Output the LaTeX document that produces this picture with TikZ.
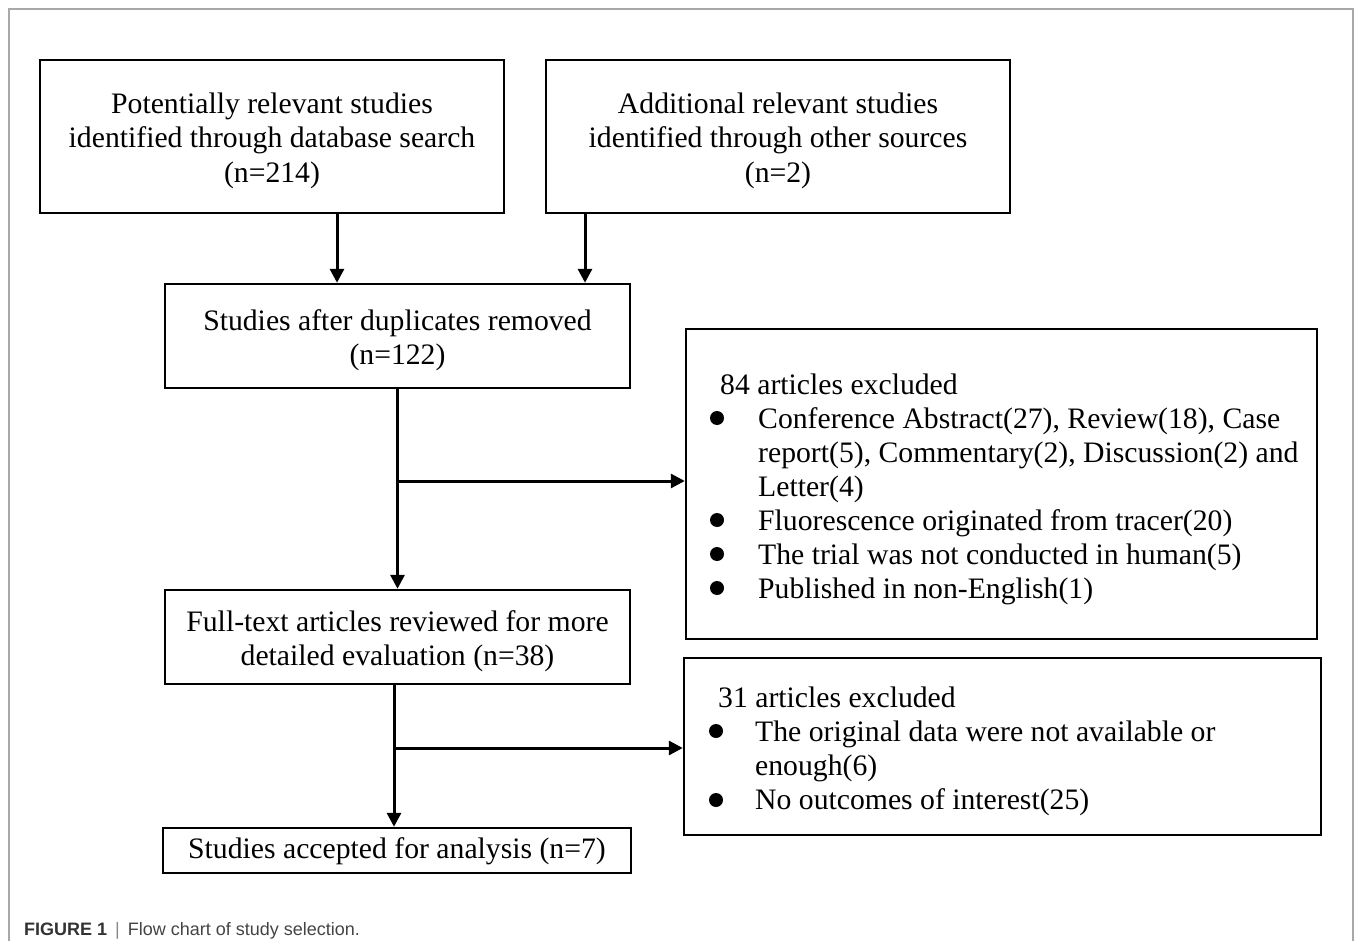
\documentclass[tikz,border=0pt]{standalone}
\usepackage{fontspec}
\setmainfont{Liberation Serif}
\newfontfamily\capfont{Liberation Sans}
\usetikzlibrary{arrows.meta}
\definecolor{framegray}{HTML}{A8A8A8}
\definecolor{capdark}{HTML}{333333}
\definecolor{captext}{HTML}{444444}
\definecolor{capbar}{HTML}{8A8A8A}
\begin{document}
\begin{tikzpicture}[x=1pt,y=-1pt,
  box/.style={draw=black, line width=2.4pt, rectangle, inner sep=0pt},
  lbl/.style={align=center, font=\fontsize{29.7}{34.5}\selectfont, inner sep=0pt, yshift=-4pt},
  ltxt/.style={align=left, font=\fontsize{29.7}{34}\selectfont, inner sep=0pt, anchor=base west},
  arr/.style={line width=3pt, -{Triangle[length=14pt,width=14pt]}}]
\useasboundingbox (0,0) rectangle (1357,941);
\draw[framegray, line width=1.3pt] (9,980) -- (9,9) -- (1353,9) -- (1353,980);

\node[box, minimum width=464pt, minimum height=153pt] (A) at (272,136.5) {};
\node[lbl] (tA) at (A) {Potentially relevant studies\\identified through database search\\(n=214)};
\node[box, minimum width=464pt, minimum height=153pt] (B) at (778,136.5) {};
\node[lbl] (tB) at (B) {Additional relevant studies\\identified through other sources\\(n=2)};
\node[box, minimum width=465pt, minimum height=104pt] (C) at (397.5,336) {};
\node[lbl] (tC) at (C) {Studies after duplicates removed\\(n=122)};
\node[box, minimum width=631pt, minimum height=310pt] (D) at (1001.5,484) {};
\node[box, minimum width=465pt, minimum height=94pt] (E) at (397.5,637) {};
\node[lbl] (tE) at (E) {Full-text articles reviewed for more\\detailed evaluation (n=38)};
\node[box, minimum width=637pt, minimum height=177pt] (F) at (1002.5,746.5) {};
\node[box, minimum width=468pt, minimum height=45pt] (G) at (397,850.5) {};
\node[lbl, yshift=3pt] (tG) at (G) {Studies accepted for analysis (n=7)};

\node[ltxt] (Dt) at (758,598) {\hspace*{-38pt}84 articles excluded\\
Conference Abstract(27), Review(18), Case\\
report(5), Commentary(2), Discussion(2) and\\
Letter(4)\\
Fluorescence originated from tracer(20)\\
The trial was not conducted in human(5)\\
Published in non-English(1)};
\fill (717,418) circle (7pt);
\fill (717,520) circle (7pt);
\fill (717,554) circle (7pt);
\fill (717,588) circle (7pt);

\node[ltxt] (Ft) at (755,809) {\hspace*{-37pt}31 articles excluded\\
The original data were not available or\\
enough(6)\\
No outcomes of interest(25)};
\fill (716,731) circle (7pt);
\fill (716,800) circle (7pt);

\coordinate (xa) at (337,0);
\coordinate (xb) at (585,0);
\coordinate (xe) at (394,0);
\coordinate (b1) at (397.5,481);
\coordinate (b2) at (394,748);
\draw[arr] (A.south -| xa) -- (C.north -| xa);
\draw[arr] (B.south -| xb) -- (C.north -| xb);
\draw[arr] (C.south) -- (E.north);
\draw[arr] (b1) -- (D.west |- b1);
\draw[arr] (E.south -| xe) -- (G.north -| xe);
\draw[arr] (b2) -- (F.west |- b2);

\node[anchor=base west, inner sep=0pt, font=\capfont\fontsize{18}{20}\selectfont] (cap) at (24,935)
  {\textcolor{capdark}{\textbf{FIGURE 1}}\hspace{8pt}\textcolor{capbar}{|}\hspace{8pt}\textcolor{captext}{Flow chart of study selection.}};
\end{tikzpicture}
\end{document}
